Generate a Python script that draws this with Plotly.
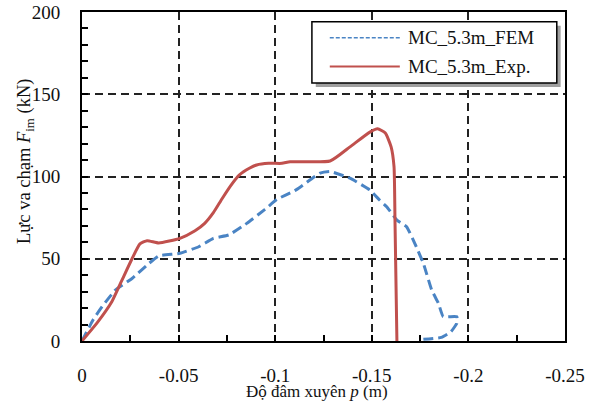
import plotly.graph_objects as go

# Penetration depth p (m) and impact force (kN)
exp_p = [0, -0.0078, -0.0155, -0.0207, -0.0259, -0.030, -0.0337, -0.0397, -0.0507,
         -0.0585, -0.0635, -0.068, -0.0725, -0.077, -0.0815, -0.0866, -0.0904, -0.0966,
         -0.1035, -0.1077, -0.1284, -0.1387, -0.149, -0.153, -0.157, -0.160, -0.1615,
         -0.162, -0.163]
exp_f = [0, 11, 24, 37, 50, 59, 61, 59.6, 62.4,
         67, 71.5, 78, 86.5, 94.5, 101, 105, 107, 108,
         108, 109, 109.4, 118, 127, 129, 126.4, 118, 106,
         73.5, 0]

fem_p = [0, -0.0057, -0.0104, -0.0173, -0.0259, -0.0345, -0.0397, -0.0507, -0.0604,
         -0.068, -0.076, -0.0853, -0.0947, -0.1008, -0.111, -0.1232, -0.1284, -0.1387,
         -0.149, -0.154, -0.1577, -0.163, -0.168, -0.173, -0.1767, -0.181, -0.1845,
         -0.187, -0.194, -0.194, -0.191, -0.186, -0.1767]
fem_f = [0, 12.8, 20.9, 31, 38, 47, 51.7, 53.3, 57.3,
         62.4, 64.5, 71.5, 80, 86, 92, 102, 103, 99,
         91.8, 85.7, 81.6, 73.5, 69.5, 57.3, 47.2, 31, 22.9,
         14.8, 14.8, 10.8, 5.7, 2.2, 1]

x_ticks = [0, -0.05, -0.1, -0.15, -0.2, -0.25]
x_tick_text = ["0", "-0.05", "-0.1", "-0.15", "-0.2", "-0.25"]
y_ticks = [0, 50, 100, 150, 200]
y_tick_text = ["0", "50", "100", "150", "200"]

series_names = ["MC_5.3m_FEM", "MC_5.3m_Exp."]
BLUE = "#4a84c4"
RED = "#c0504d"
FONT = "Liberation Serif"

fig = go.Figure()
fig.add_trace(go.Scatter(x=fem_p, y=fem_f, mode="lines", name=series_names[0],
                         line=dict(color=BLUE, width=3, dash="10px,5px",
                                   shape="spline", smoothing=0.4),
                         showlegend=False))
fig.add_trace(go.Scatter(x=exp_p, y=exp_f, mode="lines", name=series_names[1],
                         line=dict(color=RED, width=3, shape="spline", smoothing=0.5),
                         showlegend=False))

grid = dict(showgrid=True, gridcolor="#222222", gridwidth=1.6, griddash="8px,5px")
fig.update_xaxes(range=[0, -0.25], tickvals=x_ticks, ticktext=x_tick_text,
                 ticks="inside", ticklen=6, tickwidth=1.5, tickcolor="black",
                 minor=dict(dtick=0.025, ticks="inside", ticklen=6, tickcolor="black",
                            showgrid=False),
                 showline=True, linecolor="black", linewidth=2, mirror=True,
                 zeroline=False, ticklabelstandoff=16, automargin=False,
                 tickfont=dict(family=FONT, size=19, color="#111"), **grid)
fig.update_yaxes(range=[0, 200], tickvals=y_ticks, ticktext=y_tick_text,
                 ticks="inside", ticklen=6, tickwidth=1.5, tickcolor="black",
                 minor=dict(dtick=10, ticks="inside", ticklen=6, tickcolor="black",
                            showgrid=False),
                 showline=True, linecolor="black", linewidth=2, mirror=True,
                 zeroline=False, ticklabelstandoff=16, automargin=False,
                 tickfont=dict(family=FONT, size=19, color="#111"), **grid)

# Legend box with drop shadow
shapes = [
    dict(type="rect", xref="paper", yref="paper", x0=0.484, x1=0.991, y0=0.772, y1=0.958,
         fillcolor="#a0a0a0", line=dict(width=0), layer="above"),
    dict(type="rect", xref="paper", yref="paper", x0=0.476, x1=0.983, y0=0.784, y1=0.970,
         fillcolor="white", line=dict(color="black", width=1.5), layer="above"),
    dict(type="line", xref="paper", yref="paper", x0=0.513, x1=0.658, y0=0.922, y1=0.922,
         line=dict(color=BLUE, width=1.5, dash="4px,2px"), layer="above"),
    dict(type="line", xref="paper", yref="paper", x0=0.513, x1=0.658, y0=0.834, y1=0.834,
         line=dict(color=RED, width=2), layer="above"),
]
annotations = [
    dict(text=series_names[0], xref="paper", yref="paper", x=0.671, y=0.922,
         xanchor="left", yanchor="middle", showarrow=False,
         font=dict(family=FONT, size=19, color="#111")),
    dict(text=series_names[1], xref="paper", yref="paper", x=0.671, y=0.834,
         xanchor="left", yanchor="middle", showarrow=False,
         font=dict(family=FONT, size=19, color="#111")),
    dict(text="Độ đâm xuyên <i>p</i> (m)", xref="paper", yref="paper", x=0.4865, y=-0.152,
         xanchor="center", yanchor="middle", showarrow=False,
         font=dict(family=FONT, size=17, color="#111")),
    dict(text="Lực va chạm <i>F</i><sub>im</sub> (kN)", xref="paper", yref="paper",
         x=-0.118, y=0.544, textangle=-90, xanchor="center", yanchor="middle",
         showarrow=False, font=dict(family=FONT, size=18.5, color="#111")),
]

fig.update_layout(width=595, height=405, margin=dict(l=82, r=30, t=12, b=64),
                  paper_bgcolor="white", plot_bgcolor="white",
                  shapes=shapes, annotations=annotations, showlegend=False)

fig.write_html("out.html")
